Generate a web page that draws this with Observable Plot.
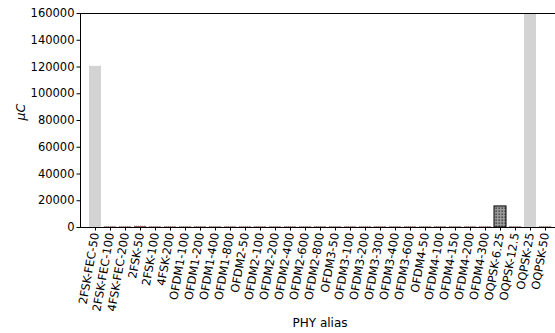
<!DOCTYPE html>
<html>
<head>
<meta charset="utf-8">
<script src="https://cdn.jsdelivr.net/npm/d3@7"></script>
<script src="https://cdn.jsdelivr.net/npm/@observablehq/plot@0.6"></script>
<style>
  html, body { margin: 0; padding: 0; background: #fff; overflow: hidden; }
  #wrap { width: 555px; height: 333px; overflow: hidden; }
  svg { font-family: "DejaVu Sans", sans-serif; }
</style>
</head>
<body>
<div id="wrap"></div>
<script>
// ---- data ----
const categories = [
  "2FSK-FEC-50", "2FSK-FEC-100", "4FSK-FEC-200", "2FSK-50", "2FSK-100", "4FSK-200",
  "OFDM1-100", "OFDM1-200", "OFDM1-400", "OFDM1-800",
  "OFDM2-50", "OFDM2-100", "OFDM2-200", "OFDM2-400", "OFDM2-600", "OFDM2-800",
  "OFDM3-50", "OFDM3-100", "OFDM3-200", "OFDM3-300", "OFDM3-400", "OFDM3-600",
  "OFDM4-50", "OFDM4-100", "OFDM4-150", "OFDM4-200", "OFDM4-300",
  "OQPSK-6.25", "OQPSK-12.5", "OQPSK-25", "OQPSK-50"
];
const values = [
  120500, 300, 300, 700, 300, 300,
  300, 300, 300, 300,
  300, 300, 300, 300, 300, 300,
  300, 300, 300, 300, 300, 300,
  300, 300, 300, 300, 300,
  15750, 300, 175000, 300
];
const groups = [
  "light", "tiny", "tiny", "tiny", "tiny", "tiny",
  "tiny", "tiny", "tiny", "tiny",
  "tiny", "tiny", "tiny", "tiny", "tiny", "tiny",
  "tiny", "tiny", "tiny", "tiny", "tiny", "tiny",
  "tiny", "tiny", "tiny", "tiny", "tiny",
  "hatched", "tiny", "light", "tiny"
];
const yTicks = [0, 20000, 40000, 60000, 80000, 100000, 120000, 140000, 160000];

const data = categories.map((c, i) => ({ name: c, value: values[i], group: groups[i] }));

const chart = Plot.plot({
  width: 559,
  height: 333,
  marginLeft: 80,
  marginRight: 0,
  marginTop: 13,
  marginBottom: 106,
  style: { fontFamily: "DejaVu Sans, sans-serif", fontSize: "11.5px", color: "#000", background: "#fff", maxWidth: "none" },
  x: { domain: categories, paddingInner: 0.2, paddingOuter: 0.29, label: null },
  y: { domain: [0, 160000], label: null },
  marks: [
    Plot.barY(data.filter(d => d.group === "light"), { x: "name", y: "value", fill: "#d3d3d3", clip: true }),
    Plot.barY(data.filter(d => d.group === "hatched"), { x: "name", y: "value", fill: "url(#dots)", stroke: "#000", strokeWidth: 1, clip: true }),
    Plot.barY(data.filter(d => d.group === "tiny"), { x: "name", y: "value", fill: "#8a5a5a", stroke: "#8a5a5a", strokeWidth: 0.6, strokeDasharray: "1,1", clip: true }),
    Plot.axisY({ ticks: yTicks, tickFormat: d => String(d), tickSize: 3.5, tickPadding: 2.5, fontSize: 11.5, label: null }),
    Plot.axisX({ tickSize: 3.5, tickPadding: 2, tickRotate: -80, fontSize: 11.5, label: null }),
    Plot.frame({ stroke: "#000", strokeWidth: 1 }),
    Plot.text(["μC"], { frameAnchor: "left", dx: -60, rotate: -90, fontSize: 12.5, fontStyle: "italic", fill: "#000" }),
    Plot.text(["PHY alias"], { frameAnchor: "bottom", dy: 99, fontSize: 12, fill: "#000" })
  ]
});

// pattern for hatched bar
const svgNS = "http://www.w3.org/2000/svg";
const defs = document.createElementNS(svgNS, "defs");
defs.innerHTML = `
  <pattern id="dots" patternUnits="userSpaceOnUse" width="3" height="3">
    <rect width="3" height="3" fill="#9a9a9a"></rect>
    <rect x="0.5" y="0.5" width="1.3" height="1.3" fill="#2a2a2a"></rect>
  </pattern>`;
chart.insertBefore(defs, chart.firstChild);

document.getElementById("wrap").appendChild(chart);
</script>
</body>
</html>
